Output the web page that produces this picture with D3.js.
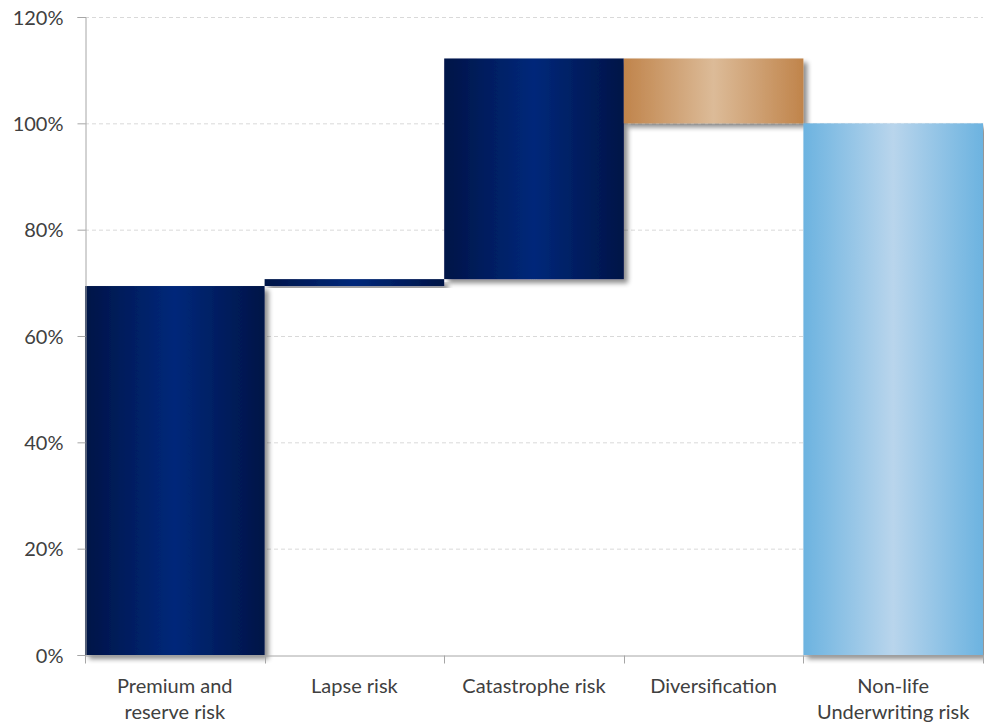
<!DOCTYPE html>
<html>
<head>
<meta charset="utf-8">
<script src="https://cdn.jsdelivr.net/npm/d3@7"></script>
<style>
  html, body { margin: 0; padding: 0; background: #ffffff; }
  svg { display: block; }
  text { font-family: Lato, "Noto Sans", sans-serif; fill: #404040; }
</style>
</head>
<body>
<svg id="chart" width="984" height="726"></svg>
<script>
// Waterfall components of the non-life underwriting risk (share of total, %)
const categories = ["Premium and\nreserve risk", "Lapse risk", "Catastrophe risk", "Diversification", "Non-life\nUnderwriting risk"];
const deltas = [69.4, 1.3, 41.5, -12.2, 100];
const isTotal = [false, false, false, false, true];
const kinds = ["risk", "risk", "risk", "diversification", "total"];
const yTicks = [0, 20, 40, 60, 80, 100, 120];

// Running totals give each bar its start and end level
let running = 0;
const bars = categories.map((c, i) => {
  let start, end;
  if (isTotal[i]) { start = 0; end = deltas[i]; running = end; }
  else { start = running; end = running + deltas[i]; running = end; }
  return { cat: c, start, end, kind: kinds[i] };
});

const svg = d3.select("#chart");
const margin = { left: 85, right: 1, top: 17, bottom: 71 };
const W = 984, H = 726;

const x = d3.scaleBand().domain(categories).range([margin.left, W - margin.right]).padding(0);
const y = d3.scaleLinear().domain([0, 120]).range([H - margin.bottom, margin.top]);

const defs = svg.append("defs");
function hGradient(id, edge, mid) {
  const g = defs.append("linearGradient").attr("id", id).attr("x1", "0%").attr("x2", "100%").attr("y1", "0%").attr("y2", "0%");
  g.append("stop").attr("offset", "0%").attr("stop-color", edge);
  g.append("stop").attr("offset", "50%").attr("stop-color", mid);
  g.append("stop").attr("offset", "100%").attr("stop-color", edge);
}
hGradient("grad-risk", "#001447", "#02287a");
hGradient("grad-diversification", "#c0844b", "#dcbb98");
hGradient("grad-total", "#6cb3e0", "#b9d5ec");

const shadow = defs.append("filter").attr("id", "shadow").attr("x", "-10%").attr("y", "-10%").attr("width", "130%").attr("height", "130%");
shadow.append("feGaussianBlur").attr("in", "SourceAlpha").attr("stdDeviation", 2.5).attr("result", "blur");
shadow.append("feOffset").attr("in", "blur").attr("dx", 4).attr("dy", 4).attr("result", "off");
shadow.append("feComponentTransfer").attr("in", "off").attr("result", "soft")
  .append("feFuncA").attr("type", "linear").attr("slope", 0.45);
const merge = shadow.append("feMerge");
merge.append("feMergeNode").attr("in", "soft");
merge.append("feMergeNode").attr("in", "SourceGraphic");

// Horizontal gridlines
svg.append("g").selectAll("line").data(yTicks.filter(t => t > 0)).join("line")
  .attr("x1", margin.left).attr("x2", W - margin.right)
  .attr("y1", d => y(d) + 0.5).attr("y2", d => y(d) + 0.5)
  .attr("stroke", "#d9d9d9").attr("stroke-width", 1).attr("stroke-dasharray", "4,3");

// Bars
svg.append("g").selectAll("rect").data(bars).join("rect")
  .attr("x", d => x(d.cat))
  .attr("width", x.bandwidth())
  .attr("y", d => y(Math.max(d.start, d.end)))
  .attr("height", d => Math.abs(y(d.start) - y(d.end)))
  .attr("fill", d => `url(#grad-${d.kind})`)
  .attr("filter", "url(#shadow)");

// Y axis
const yAxis = d3.axisLeft(y).tickValues(yTicks).tickFormat(d => d + "%").tickSize(8).tickPadding(14);
const gy = svg.append("g").attr("transform", `translate(${margin.left + 0.5},0)`).call(yAxis);
gy.select(".domain").attr("stroke", "#a6a6a6");
gy.selectAll(".tick line").attr("stroke", "#a6a6a6");
gy.selectAll(".tick text").attr("font-size", 20).attr("fill", "#404040").attr("dy", "0.35em");

// X axis
const xAxis = d3.axisBottom(x).tickSize(0).tickFormat(() => "");
const gx = svg.append("g").attr("transform", `translate(0,${y(0) + 0.5})`).call(xAxis);
gx.select(".domain").attr("stroke", "#a6a6a6");
const edges = categories.map(c => x(c)).concat([x(categories[categories.length - 1]) + x.bandwidth()]);
gx.selectAll(".edge").data(edges).join("line").attr("class", "edge")
  .attr("x1", d => Math.round(d) + 0.5).attr("x2", d => Math.round(d) + 0.5)
  .attr("y1", 0).attr("y2", 8).attr("stroke", "#a6a6a6");

const labels = svg.append("g").selectAll("text").data(categories).join("text")
  .attr("x", d => x(d) + x.bandwidth() / 2)
  .attr("y", y(0) + 38)
  .attr("text-anchor", "middle")
  .attr("font-size", 20);
labels.selectAll("tspan").data(d => d.split("\n")).join("tspan")
  .attr("x", function () { return d3.select(this.parentNode).attr("x"); })
  .attr("dy", (d, i) => i === 0 ? 0 : 26)
  .text(d => d);
</script>
</body>
</html>
